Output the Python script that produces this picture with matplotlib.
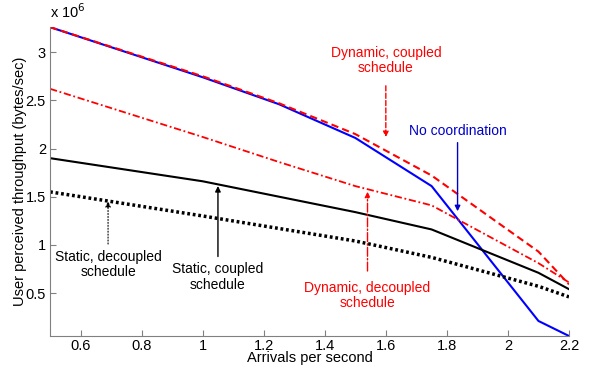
import matplotlib
matplotlib.use('Agg')
import matplotlib.pyplot as plt

plt.rcParams['font.family'] = ['Liberation Sans', 'DejaVu Sans']

# Arrivals per second
x = [0.5, 1.0, 1.25, 1.5, 1.75, 2.1, 2.2]

# Throughput in units of 1e6 bytes/sec
no_coord = [3.26, 2.74, 2.46, 2.11, 1.61, 0.21, 0.054]
dyn_coupled = [3.26, 2.75, 2.47, 2.15, 1.72, 0.93, 0.59]
dyn_decoupled = [2.62, 2.12, 1.86, 1.61, 1.41, 0.81, 0.61]
stat_coupled = [1.90, 1.66, 1.50, 1.34, 1.16, 0.71, 0.54]
stat_decoupled = [1.55, 1.30, 1.17, 1.04, 0.87, 0.57, 0.46]

xticks = [0.6, 0.8, 1, 1.2, 1.4, 1.6, 1.8, 2, 2.2]
xticklabels = ['0.6', '0.8', '1', '1.2', '1.4', '1.6', '1.8', '2', '2.2']
yticks = [0.5, 1, 1.5, 2, 2.5, 3]
yticklabels = ['0.5', '1', '1.5', '2', '2.5', '3']

fig = plt.figure(figsize=(5.89, 3.67), dpi=100)
ax = fig.add_axes([0.085, 0.0845, 0.881, 0.8415])

ax.plot(x, no_coord, '-', color='#0000ff', lw=1.5)
ax.plot(x, dyn_coupled, '--', color='#ff0000', lw=1.5, dashes=(3.5, 2))
ax.plot(x, dyn_decoupled, '-.', color='#ff0000', lw=1.3, dashes=(4, 1.5, 1, 1.5))
ax.plot(x, stat_coupled, '-', color='black', lw=1.5)
ax.plot(x, stat_decoupled, color='black', lw=2.5, linestyle=(0, (0.8, 0.8)))

ax.set_xlim(0.5, 2.2)
ax.set_ylim(0.054, 3.26)
ax.set_xticks(xticks)
ax.set_xticklabels(xticklabels)
ax.set_yticks(yticks)
ax.set_yticklabels(yticklabels)
ax.tick_params(direction='in', length=4, color='#808080', labelsize=10.5)
ax.tick_params(axis='x', pad=2)
ax.tick_params(axis='y', pad=3)
for s in ('top', 'right'):
    ax.spines[s].set_visible(False)
for s in ('left', 'bottom'):
    ax.spines[s].set_color('#808080')

ax.set_xlabel('Arrivals per second', fontsize=10.5, labelpad=-1)
ax.set_ylabel('User perceived throughput (bytes/sec)', fontsize=10.5, labelpad=-1)
ax.text(0.0, 1.02, r'x 10$^6$', transform=ax.transAxes, fontsize=10.5, va='bottom', ha='left')

fs = 10
ax.annotate('', xy=(1.60, 2.09), xytext=(1.60, 2.68),
            arrowprops=dict(arrowstyle='-|>', color='#ff0000', lw=1, linestyle='--', mutation_scale=8))
ax.text(1.60, 2.76, 'Dynamic, coupled\nschedule', color='#ff0000', fontsize=fs,
        ha='center', va='bottom', linespacing=1.15)

ax.annotate('', xy=(1.835, 1.32), xytext=(1.835, 2.09),
            arrowprops=dict(arrowstyle='-|>', color='#0000cc', lw=1, mutation_scale=8))
ax.text(1.835, 2.11, 'No coordination', color='#0000cc', fontsize=fs, ha='center', va='bottom')

ax.annotate('', xy=(1.54, 1.58), xytext=(1.54, 0.70),
            arrowprops=dict(arrowstyle='-|>', color='#ff0000', lw=1, linestyle='-.', mutation_scale=8))
ax.text(1.54, 0.63, 'Dynamic, decoupled\nschedule', color='#ff0000', fontsize=fs,
        ha='center', va='top', linespacing=1.15)

ax.annotate('', xy=(1.05, 1.64), xytext=(1.05, 0.85),
            arrowprops=dict(arrowstyle='-|>', color='black', lw=1, mutation_scale=8))
ax.text(1.05, 0.82, 'Static, coupled\nschedule', color='black', fontsize=fs,
        ha='center', va='top', linespacing=1.15)

ax.annotate('', xy=(0.69, 1.48), xytext=(0.69, 0.98),
            arrowprops=dict(arrowstyle='-|>', color='black', lw=0.8, linestyle=':', mutation_scale=8))
ax.text(0.69, 0.95, 'Static, decoupled\nschedule', color='black', fontsize=fs,
        ha='center', va='top', linespacing=1.15)

plt.savefig('out.png', dpi=100)
